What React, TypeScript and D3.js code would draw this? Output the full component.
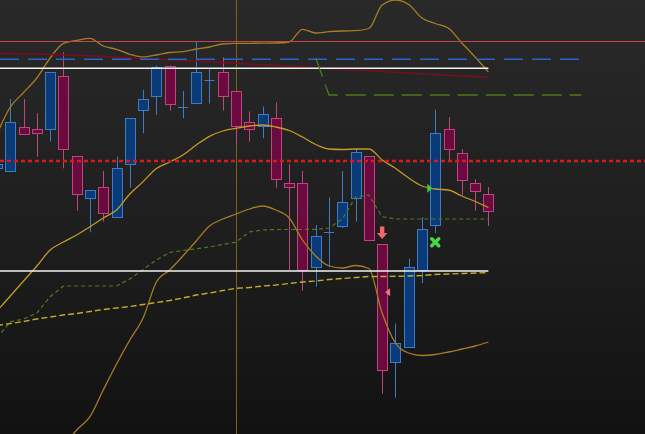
import React from 'react';
import * as d3 from 'd3';

const W = 645;
const H = 434;

// candle index runs from -1 to 36
const FIRST_INDEX = -1;
const opens = [331.7, 328.3, 373.3, 370.7, 370.7, 423.7, 344, 301.7, 313, 282.7, 335.7, 390, 404.3, 434.5, 392.7, 396.7, 419.5, 428, 408.7, 377.5, 374, 381.7, 316.8, 316.8, 232.7, 267.7, 274.3, 301.7, 343.7, 255.8, 137.7, 152.7, 229.3, 274.3, 370.8, 347.5, 317.2, 305.8];
const closes = [335.7, 377.7, 366.7, 366.7, 428, 350.7, 305.7, 309.7, 286.7, 331.7, 381.7, 400.7, 433, 396.7, 392.9, 428, 419.7, 404.3, 373.3, 370.8, 385.8, 320.7, 312.7, 229.3, 263.8, 267.9, 298, 347.7, 260, 130, 156.7, 233, 270.7, 366.7, 350.7, 320.7, 309.3, 289.3];
const highs = [340, 401, 401, 386.7, 428, 447.7, 344, 309.7, 329, 343.3, 381.7, 410, 434.3, 434.5, 409, 458.5, 431.7, 442.7, 408.7, 388.5, 393.5, 397.5, 336, 329, 275, 302.5, 329, 351.7, 343.7, 255.8, 176.3, 241.3, 282.7, 390.3, 382.7, 350.8, 320.8, 313];
const lows = [328, 328, 366.7, 343.3, 358.3, 331.7, 289.3, 267.7, 278.3, 282.7, 312.3, 366.7, 385, 389.5, 381.7, 396.7, 396.5, 389.5, 355, 358.3, 361.7, 312.3, 230, 209.3, 213.3, 233.3, 272, 278.3, 260, 106.3, 102.5, 152.7, 217, 267, 339, 305, 289.3, 274];

// band indicator (index -1..36)
const upperBand = [366, 393, 407.5, 422, 442, 456.7, 459.5, 461.7, 454, 450.7, 445.7, 443, 445, 447.5, 448.3, 451, 453, 456, 456.7, 456.7, 456.8, 457, 458, 470.7, 467, 468.3, 469, 469.3, 471.5, 495, 500, 495.5, 482, 476.5, 471.7, 457, 443, 428];
const middleBand = [189, 204, 219, 234, 250, 258, 265, 273.3, 282, 290, 306, 318.4, 331.4, 338, 345, 355, 363.7, 369, 371.7, 374, 375, 373, 369.5, 363, 355.5, 351, 350.5, 351, 351, 340, 331.7, 322, 314, 311, 310, 304, 298.5, 292.5];
// lower band starts at index 3
const LOWER_FIRST = 3;
const lowerBand = [30, 53, 70, 83.3, 110, 136, 160, 182, 218, 230, 244, 259, 274, 281, 286, 291, 294, 290, 282, 260, 244, 234, 232, 234.5, 231.5, 187, 157, 147, 144.5, 145.5, 148, 151, 154, 158];

// stepped trailing line and slow average (index -1..36)
const trailLine = [162, 178.3, 181, 187, 203.3, 214, 214, 214, 214, 214, 221, 230.5, 240, 247.5, 249.5, 251.2, 253, 255.5, 258, 268, 270, 270.5, 270.5, 270.5, 270.7, 272, 281, 303, 305, 283.3, 281, 281, 281, 281, 281, 281, 281, 281];
const slowAverage = [174.5, 176.5, 178.5, 181, 183, 185, 186.5, 188.5, 190.5, 192, 193.5, 195.5, 197.5, 199.5, 202, 205, 207, 209.5, 211.7, 212.5, 214, 215, 216.5, 218, 219, 220.5, 221.5, 222.5, 223.5, 223.5, 223.7, 224, 224.5, 225.5, 226, 226.5, 227, 227.3];

// sloping channel line: [index, price]
const channelPoints: [number, number][] = [[-1, 446.8], [4, 445.2], [10, 441.5], [17, 436.7], [24, 431.5], [30, 427], [36, 422.7]];

// target line: [index, price]
const targetPoints: [number, number][] = [[23, 442], [24, 405], [43, 405]];

// horizontal levels
const LAST_CANDLE = 36;
const PROJECTION_END = 43;
const resistanceTop = 458.7;
const bluePivot = 440.7;
const whiteHigh = 431.7;
const redMid = 339;
const whiteLow = 229;
const cursorIndex = 17;

// signals
const signals = [
  { i: 28, price: 261, kind: 'arrowDown' },
  { i: 28, price: 207.7, kind: 'triLeft' },
  { i: 32, price: 311.7, kind: 'triRight' },
  { i: 32, price: 257.7, kind: 'cross' },
];

export default function App() {
  React.useEffect(() => {
    document.body.style.margin = '0';
    document.body.style.background = '#111';
  }, []);

  const x = d3.scaleLinear().domain([-0.7756, 47.794]).range([0, W]);
  const y = d3.scaleLinear().domain([66, 500]).range([H, 0]);
  const [xMin, xMax] = x.domain();

  const candles = opens.map((o, k) => ({
    i: k + FIRST_INDEX,
    o,
    c: closes[k],
    h: highs[k],
    l: lows[k],
  }));

  const lineGen = d3
    .line<[number, number]>()
    .x((d) => x(d[0]))
    .y((d) => y(d[1]));

  const toPts = (arr: number[], first: number) =>
    arr.map((v, k) => [k + first, v] as [number, number]);

  const curveLine = d3
    .line<[number, number]>()
    .x((d) => x(d[0]))
    .y((d) => y(d[1]))
    .curve(d3.curveMonotoneX);

  const bodyW = 10;
  const blueFill = '#0b3a78';
  const blueStroke = '#3d7cc4';
  const redFill = '#6a0a3e';
  const redStroke = '#c2447f';

  return (
    <svg
      width={W}
      height={H}
      style={{ position: 'absolute', left: 0, top: 0, display: 'block' }}
    >
      <defs>
        <linearGradient id="bg" x1="0" y1="0" x2="0" y2="1">
          <stop offset="0" stopColor="#292929" />
          <stop offset="0.5" stopColor="#1f1f1f" />
          <stop offset="1" stopColor="#121212" />
        </linearGradient>
      </defs>
      <rect x={0} y={0} width={W} height={H} fill="url(#bg)" />

      {/* cursor vertical */}
      <line
        x1={Math.round(x(cursorIndex)) + 0.5}
        x2={Math.round(x(cursorIndex)) + 0.5}
        y1={y.range()[1]}
        y2={y.range()[0]}
        stroke="#7a6218"
        strokeWidth={1}
      />

      {/* candles */}
      {candles.map((d) => {
        const up = d.c >= d.o;
        const cx = x(d.i);
        const stroke = up ? blueStroke : redStroke;
        const fill = up ? blueFill : redFill;
        const doji = Math.abs(d.c - d.o) < 0.5;
        const top = y(Math.max(d.o, d.c));
        const bot = y(Math.min(d.o, d.c));
        return (
          <g key={d.i}>
            <line
              x1={Math.round(cx) + 0.5}
              x2={Math.round(cx) + 0.5}
              y1={y(d.h)}
              y2={y(d.l)}
              stroke={stroke}
              strokeWidth={1}
            />
            {doji ? (
              <line
                x1={cx - bodyW / 2}
                x2={cx + bodyW / 2}
                y1={Math.round(top) + 0.5}
                y2={Math.round(top) + 0.5}
                stroke={stroke}
                strokeWidth={1}
              />
            ) : (
              <rect
                x={Math.round(cx - bodyW / 2) + 0.5}
                y={Math.round(top) + 0.5}
                width={bodyW}
                height={Math.round(bot - top)}
                fill={fill}
                stroke={stroke}
                strokeWidth={1}
              />
            )}
          </g>
        );
      })}

      {/* bands */}
      <path d={curveLine(toPts(upperBand, FIRST_INDEX)) || ''} fill="none" stroke="#a67e22" strokeWidth={1.3} />
      <path d={curveLine(toPts(middleBand, FIRST_INDEX)) || ''} fill="none" stroke="#c49a26" strokeWidth={1.3} />
      <path d={curveLine(toPts(lowerBand, LOWER_FIRST)) || ''} fill="none" stroke="#a67e22" strokeWidth={1.3} />

      {/* trailing stepped line */}
      <path d={lineGen(toPts(trailLine, FIRST_INDEX)) || ''} fill="none" stroke="#4f7a22" strokeWidth={1.2} strokeDasharray="4,3" />
      {/* slow average */}
      <path d={lineGen(toPts(slowAverage, FIRST_INDEX)) || ''} fill="none" stroke="#c2ac2c" strokeWidth={1.4} strokeDasharray="6,3" />

      {/* channel line */}
      <path d={curveLine(channelPoints) || ''} fill="none" stroke="#7a0e1e" strokeWidth={1.5} />

      {/* horizontal levels */}
      <line x1={x(xMin)} x2={x(xMax)} y1={Math.round(y(resistanceTop)) + 0.5} y2={Math.round(y(resistanceTop)) + 0.5} stroke="#c04848" strokeWidth={1} />
      <line x1={x(xMin)} x2={x(PROJECTION_END)} y1={y(bluePivot)} y2={y(bluePivot)} stroke="#2a64c8" strokeWidth={1.5} strokeDasharray="19,9" />
      <line x1={x(xMin)} x2={x(LAST_CANDLE)} y1={y(whiteHigh)} y2={y(whiteHigh)} stroke="#f2f2f2" strokeWidth={1.5} />
      <line x1={x(xMin)} x2={x(LAST_CANDLE)} y1={y(whiteLow)} y2={y(whiteLow)} stroke="#f2f2f2" strokeWidth={1.5} />
      <line x1={x(xMin)} x2={x(xMax)} y1={y(redMid)} y2={y(redMid)} stroke="#d41c1c" strokeWidth={2.5} strokeDasharray="4,3" />

      {/* target line */}
      <path d={lineGen(targetPoints) || ''} fill="none" stroke="#4c7a1a" strokeWidth={1.3} strokeDasharray="20,8" />

      {/* signals */}
      {signals.map((s, k) => {
        const sx = x(s.i);
        const sy = y(s.price);
        if (s.kind === 'arrowDown') {
          return (
            <path
              key={k}
              d={`M${sx - 2.2},${sy - 12.5} h4.4 v6.5 h3 L${sx},${sy} L${sx - 5.2},${sy - 6} h3 z`}
              fill="#f26868"
            />
          );
        }
        if (s.kind === 'triLeft') {
          const tx = sx + 6;
          return <path key={k} d={`M${tx - 3},${sy} L${tx + 2},${sy - 4} L${tx + 2},${sy + 4} z`} fill="#f07080" />;
        }
        if (s.kind === 'triRight') {
          const tx = sx - 6;
          return <path key={k} d={`M${tx + 3},${sy} L${tx - 2},${sy - 4.5} L${tx - 2},${sy + 4.5} z`} fill="#3ccf3c" />;
        }
        return (
          <g key={k} stroke="#46d846" strokeWidth={3.5} strokeLinecap="round">
            <line x1={sx - 3.5} y1={sy - 3.5} x2={sx + 3.5} y2={sy + 3.5} />
            <line x1={sx - 3.5} y1={sy + 3.5} x2={sx + 3.5} y2={sy - 3.5} />
          </g>
        );
      })}
    </svg>
  );
}
